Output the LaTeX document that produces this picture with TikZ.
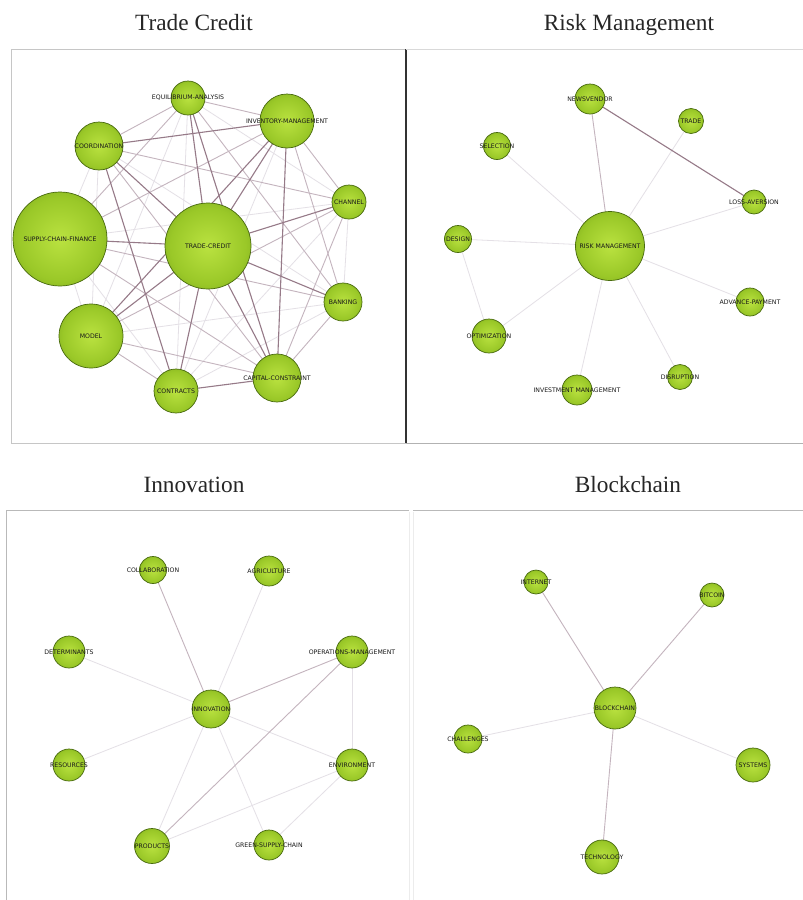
\documentclass[tikz,border=0pt]{standalone}
\usepackage{fontspec}
\setmainfont{Liberation Serif}
\newfontfamily\lblfont{DejaVu Sans}

\definecolor{ballhi}{RGB}{186,226,64}
\definecolor{ballmid}{RGB}{154,200,40}
\definecolor{balllo}{RGB}{108,152,22}
\definecolor{ballrim}{RGB}{72,106,14}
\definecolor{edgedark}{RGB}{150,122,136}
\definecolor{edgemid}{RGB}{196,180,190}
\definecolor{edgelight}{RGB}{228,224,230}

\pgfdeclareradialshading{greenball}{\pgfpoint{0bp}{0bp}}{%
  color(0bp)=(ballhi); color(22bp)=(ballmid); color(40bp)=(balllo); color(50bp)=(ballrim)}

\pgfdeclarelayer{paper}
\pgfdeclarelayer{edges}
\pgfsetlayers{paper,edges,main}

\tikzset{
  ball/.style={circle, draw=ballrim, line width=0.7pt, shade, shading=greenball,
               inner sep=0pt, minimum size=#1},
  lbl/.style={font=\lblfont\fontsize{6.2}{7}\selectfont, text=black!90, inner sep=0pt},
  title/.style={font=\fontsize{23.3}{26}\selectfont, text=black!85, anchor=base},
  e3/.style={draw=edgedark, line width=1.1pt},
  e2/.style={draw=edgemid, line width=0.9pt},
  e1/.style={draw=edgelight, line width=0.8pt},
  frame/.style={draw=gray!45, line width=0.8pt},
}

\begin{document}
\begin{tikzpicture}[x=1pt, y=-1pt]
\begin{pgfonlayer}{paper}
\fill[white] (0,0) rectangle (803,900);
\end{pgfonlayer}
\useasboundingbox (0,0) rectangle (803,900);

% panel titles
\node[title] (t1) at (194,30) {Trade Credit};
\node[title] (t2) at (629,30) {Risk Management};
\node[title] (t3) at (194,492) {Innovation};
\node[title] (t4) at (628,492) {Blockchain};

% panel frames
\draw[frame] (406,49) -- (11,49) -- (11,443) -- (406,443);
\draw[draw=gray!40!black, line width=1.4pt] (406,49) -- (406,443);
\draw[draw=gray!30, line width=0.8pt] (406,49) -- (803,49);
\draw[draw=gray!60, line width=0.9pt] (406,443) -- (803,443);
\draw[draw=gray!55, line width=0.9pt] (409,510) -- (6,510) -- (6,900);
\draw[draw=gray!15, line width=0.8pt] (409,512) -- (409,900);
\draw[draw=gray!55, line width=0.9pt] (413,510) -- (803,510);
\draw[draw=gray!15, line width=0.8pt] (413,512) -- (413,900);

% ---------- Trade Credit ----------
\node[ball=34pt, label={[lbl]center:EQUILIBRIUM-ANALYSIS}] (eq) at (188,98) {};
\node[ball=54pt, label={[lbl]center:INVENTORY-MANAGEMENT}] (inv) at (287,121) {};
\node[ball=48pt, label={[lbl]center:COORDINATION}] (coord) at (99,146) {};
\node[ball=34pt, label={[lbl]center:CHANNEL}] (chan) at (349,202) {};
\node[ball=94pt, label={[lbl]center:SUPPLY-CHAIN-FINANCE}] (scf) at (60,239) {};
\node[ball=86pt, label={[lbl]center:TRADE-CREDIT}] (tc) at (208,246) {};
\node[ball=38pt, label={[lbl]center:BANKING}] (bank) at (343,302) {};
\node[ball=64pt, label={[lbl]center:MODEL}] (model) at (91,336) {};
\node[ball=44pt, label={[lbl]center:CONTRACTS}] (cont) at (176,391) {};
\node[ball=48pt, label={[lbl]center:CAPITAL-CONSTRAINT}] (cap) at (277,378) {};

\begin{pgfonlayer}{edges}
\foreach \a/\b in {eq/chan, eq/model, eq/cont, inv/cont, coord/scf, coord/bank,
  coord/model, chan/scf, chan/bank, chan/cont, scf/model, scf/cont, bank/model, bank/cont}
  \draw[e1] (\a.center) -- (\b.center);
\foreach \a/\b in {eq/coord, eq/inv, eq/scf, inv/chan, inv/bank, inv/scf, coord/chan,
  coord/cap, chan/cap, chan/model, scf/bank, scf/cap, model/cap, model/cont, bank/cap, eq/bank}
  \draw[e2] (\a.center) -- (\b.center);
\foreach \a/\b in {tc/eq, tc/inv, tc/cap, tc/scf, tc/model, tc/bank, tc/chan, tc/coord,
  tc/cont, eq/cap, inv/model, coord/cont, cont/cap, inv/cap, inv/coord}
  \draw[e3] (\a.center) -- (\b.center);
\end{pgfonlayer}

% ---------- Risk Management ----------
\node[ball=30pt, label={[lbl]center:NEWSVENDOR}] (nv) at (590,99) {};
\node[ball=25pt, label={[lbl]center:TRADE}] (trade) at (691,121) {};
\node[ball=27pt, label={[lbl]center:SELECTION}] (sel) at (497,146) {};
\node[ball=24pt, label={[lbl]center:LOSS-AVERSION}] (loss) at (754,202) {};
\node[ball=27pt, label={[lbl]center:DESIGN}] (design) at (458,239) {};
\node[ball=69pt, label={[lbl]center:RISK MANAGEMENT}] (rm) at (610,246) {};
\node[ball=28pt, label={[lbl]center:ADVANCE-PAYMENT}] (adv) at (750,302) {};
\node[ball=34pt, label={[lbl]center:OPTIMIZATION}] (opt) at (489,336) {};
\node[ball=30pt, label={[lbl]center:INVESTMENT MANAGEMENT}] (invm) at (577,390) {};
\node[ball=25pt, label={[lbl]center:DISRUPTION}] (dis) at (680,377) {};

\begin{pgfonlayer}{edges}
\foreach \b in {trade, sel, loss, design, adv, opt, invm, dis}
  \draw[e1] (rm.center) -- (\b.center);
\draw[e1] (design.center) -- (opt.center);
\draw[e2] (rm.center) -- (nv.center);
\draw[e3] (nv.center) -- (loss.center);
\end{pgfonlayer}

% ---------- Innovation ----------
\node[ball=27pt, label={[lbl]center:COLLABORATION}] (col) at (153,570) {};
\node[ball=30pt, label={[lbl]center:AGRICULTURE}] (agr) at (269,571) {};
\node[ball=32pt, label={[lbl]center:DETERMINANTS}] (det) at (69,652) {};
\node[ball=32pt, label={[lbl]center:OPERATIONS-MANAGEMENT}] (ops) at (352,652) {};
\node[ball=38pt, label={[lbl]center:INNOVATION}] (inn) at (211,709) {};
\node[ball=32pt, label={[lbl]center:RESOURCES}] (res) at (69,765) {};
\node[ball=32pt, label={[lbl]center:ENVIRONMENT}] (env) at (352,765) {};
\node[ball=35pt, label={[lbl]center:PRODUCTS}] (prod) at (152,846) {};
\node[ball=30pt, label={[lbl]center:GREEN-SUPPLY-CHAIN}] (gsc) at (269,845) {};

\begin{pgfonlayer}{edges}
\foreach \b in {agr, det, res, env, prod, gsc}
  \draw[e1] (inn.center) -- (\b.center);
\draw[e1] (ops.center) -- (env.center);
\draw[e1] (env.center) -- (prod.center);
\draw[e1] (env.center) -- (gsc.center);
\draw[e2] (inn.center) -- (col.center);
\draw[e2] (inn.center) -- (ops.center);
\draw[e2] (ops.center) -- (prod.center);
\end{pgfonlayer}

% ---------- Blockchain ----------
\node[ball=24pt, label={[lbl]center:INTERNET}] (net) at (536,582) {};
\node[ball=24pt, label={[lbl]center:BITCOIN}] (btc) at (712,595) {};
\node[ball=42pt, label={[lbl]center:BLOCKCHAIN}] (bc) at (615,708) {};
\node[ball=28pt, label={[lbl]center:CHALLENGES}] (chl) at (468,739) {};
\node[ball=34pt, label={[lbl]center:SYSTEMS}] (sys) at (753,765) {};
\node[ball=34pt, label={[lbl]center:TECHNOLOGY}] (tech) at (602,857) {};

\begin{pgfonlayer}{edges}
\draw[e2] (bc.center) -- (net.center);
\draw[e2] (bc.center) -- (btc.center);
\draw[e2] (bc.center) -- (tech.center);
\draw[e1] (bc.center) -- (chl.center);
\draw[e1] (bc.center) -- (sys.center);
\end{pgfonlayer}
\end{tikzpicture}
\end{document}
